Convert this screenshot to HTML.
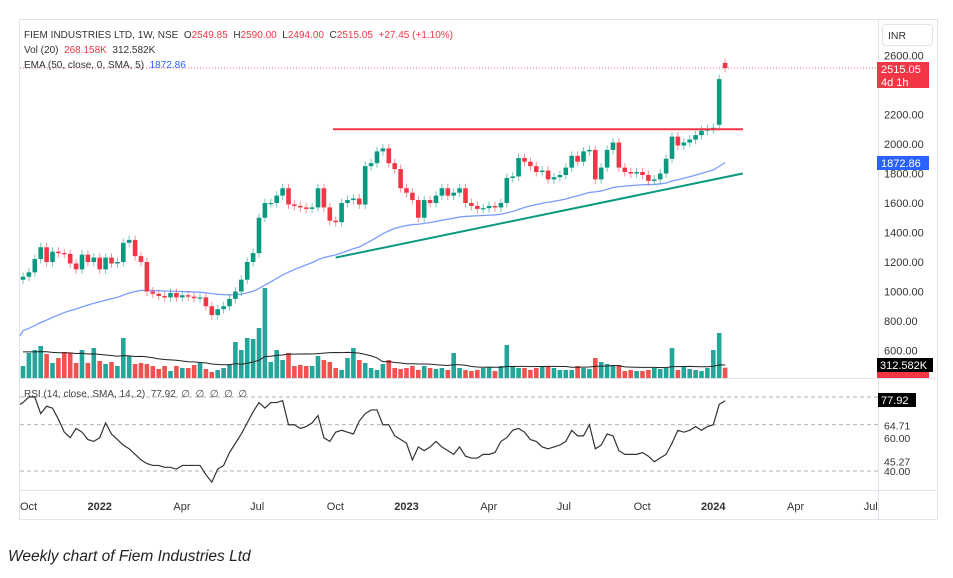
<!DOCTYPE html>
<html><head><meta charset="utf-8">
<style>
body{margin:0;background:#fff;width:953px;height:578px;overflow:hidden;font-family:"Liberation Sans",sans-serif;}
svg{position:absolute;left:0;top:0}
.cap{position:absolute;left:8px;top:548px;font-style:italic;font-size:15.5px;color:#222;}
</style></head>
<body>
<svg id="c" width="953" height="578"></svg>
<div class="cap">Weekly chart of Fiem Industries Ltd</div>
<script>
const closes=[1100,1130,1220,1300,1200,1270,1260,1255,1190,1150,1250,1200,1230,1150,1230,1190,1200,1330,1350,1240,
1200,1000,985,970,960,990,960,975,965,955,960,900,840,880,
900,950,1000,1080,1200,1260,1500,1600,1600,1650,1700,1590,1580,1570,1560,1570,1700,1570,1480,1470,1600,1620,1630,1590,
1850,1870,1950,1970,1870,1830,1700,1670,1620,1500,1620,1600,1650,1700,1650,1670,1700,1600,1580,1560,1565,1580,1570,1600,
1770,1780,1905,1880,1850,1810,1820,1760,1775,1790,1840,1920,1880,1950,1960,1760,1840,1960,2010,1840,
1810,1800,1810,1790,1750,1760,1800,1900,2050,1990,2010,2030,2060,2090,2100,2110,2440,2515.05];
const lastOpen=2549.85;
const volumesK=[312,650,728,832,624,390,520,676,650,390,728,390,780,442,364,416,312,1040,572,364,
390,364,312,234,312,182,312,260,260,338,390,234,156,208,
260,364,936,728,1040,1014,1300,2340,416,728,468,650,312,338,312,312,572,468,416,260,208,520,780,468,
390,260,208,364,468,260,234,260,312,208,312,260,234,260,208,650,260,208,182,208,260,286,182,312,
858,312,260,260,208,260,312,312,260,208,208,208,312,260,234,520,416,364,338,338,
182,208,182,182,208,260,234,260,780,208,312,234,208,182,260,728,1170,268];
const rsiVals=[77,80,80,71,75,74,68,61,58,63,61,57,56,58,66,60,57,54,52,49,46,44,43,43,42,42,41,43,43,43,43,38,34,41,43,50,55,60,66,72,77,74,77,77,78,65,65,63,64,66,70,58,56,61,62,61,60,67,71,73,73,65,65,59,57,55,46,53,51,53,56,53,51,49,53,48,47,47,49,49,50,56,58,62,63,61,57,56,53,52,53,54,56,62,59,59,65,52,54,60,59,51,49,49,49,50,48,45,47,49,55,62,61,62,64,62,64,65,76,78];
const priceTicks=[2600,2200,2000,1800,1600,1400,1200,1000,800,600];
const timeLabels=["Oct","2022","Apr","Jul","Oct","2023","Apr","Jul","Oct","2024","Apr","Jul"];
const timeWeeks=[1,14,27,40,53,66,79,92,105,118,131,144];
const resistance=2100, supportStart=[53,1230], supportEnd=[122,1800];

const svg=document.getElementById('c');const NS='http://www.w3.org/2000/svg';
function mk(t,a,p){const e=document.createElementNS(NS,t);for(const k in a)e.setAttribute(k,a[k]);(p||svg).appendChild(e);return e;}
const X=i=>23+i*5.9;
const Y=p=>144+(2000-p)*0.1475;
const VY=v=>378-v/26;
const RY=r=>434-(r-60)*1.85;
const G='#089981',R='#f23645';
const frame=mk('rect',{x:19.5,y:19.5,width:918,height:500,fill:'none',stroke:'#e0e3eb'});

mk('line',{x1:878.5,y1:20,x2:878.5,y2:519,stroke:'#e0e3eb'});
mk('line',{x1:20,y1:378.5,x2:937,y2:378.5,stroke:'#e0e3eb'});
mk('line',{x1:20,y1:490.5,x2:937,y2:490.5,stroke:'#e0e3eb'});
mk('line',{x1:20,y1:Y(2515.05),x2:878,y2:Y(2515.05),stroke:R,'stroke-dasharray':'1 2','stroke-width':0.8});
const vg=mk('g',{});
const opens=closes.map((c,i)=>i?closes[i-1]:1080);opens[closes.length-1]=lastOpen;opens[closes.length-2]=2130;
closes.forEach((c,i)=>{const up=c>=opens[i];const b=mk('rect',{x:X(i)-2.3,y:VY(volumesK[i]),width:4.6,height:378-VY(volumesK[i]),fill:up?'#26a69a':'#ef5350'},vg);
});
let vp='';volumesK.forEach((v,i)=>{const s=volumesK.slice(Math.max(0,i-19),i+1);const pre=Math.max(0,20-s.length);const m=(s.reduce((a,b)=>a+b,0)+pre*700)/20;vp+=(i?'L':'M')+X(i)+' '+VY(m);});
const vs=mk('path',{d:vp,fill:'none',stroke:'#222',"stroke-width":1});
let e=720,ep='';closes.forEach((c,i)=>{e=e+(c-e)*2/51;ep+=(i?'L':'M')+X(i)+' '+Y(e);});
const el=mk('path',{d:'M20 '+Y(700)+ep.replace('M','L'),fill:'none',stroke:'#7b9cff','stroke-width':1.3});
const cg=mk('g',{});
closes.forEach((c,i)=>{const o=opens[i];const up=c>=o;const col=up?G:R;const hi=Math.max(o,c)+30,lo=Math.min(o,c)-30;
mk('line',{x1:X(i),y1:Y(hi),x2:X(i),y2:Y(lo),stroke:col,'stroke-width':1,opacity:0.55},cg);
const h=Math.max(1.2,Math.abs(Y(o)-Y(c)));const r=mk('rect',{x:X(i)-2.3,y:Math.min(Y(o),Y(c)),width:4.6,height:h,fill:col},cg);
});
const rl=mk('line',{x1:333,y1:Y(resistance),x2:743,y2:Y(resistance),stroke:'#f23645','stroke-width':2});
const sl=mk('line',{x1:X(supportStart[0]),y1:Y(supportStart[1]),x2:X(supportEnd[0]),y2:Y(supportEnd[1]),stroke:'#089981','stroke-width':2});
[80,65,40].forEach(v=>mk('line',{x1:20,y1:RY(v),x2:878,y2:RY(v),stroke:'#999','stroke-dasharray':'4 3','stroke-width':0.8}));
let rp='';rsiVals.forEach((r,i)=>rp+=(i?'L':'M')+X(i)+' '+RY(r));
const rl2=mk('path',{d:'M20 '+RY(76)+rp.replace('M','L'),fill:'none',stroke:'#333','stroke-width':1.2});
function tx(x,y,s,o){const t=mk('text',Object.assign({x:x,y:y,'font-size':11,fill:'#131722','font-family':'Liberation Sans'},o||{}));t.textContent=s;return t;}
priceTicks.forEach(p=>{const t=tx(884,Y(p)+4,p.toFixed(2),{fill:'#333'});});
[['64.71',RY(64.71)+4],['60.00',RY(60)+8],['45.27',RY(45.27)+4],['40.00',RY(40)+4]].forEach(a=>tx(884,a[1],a[0],{fill:'#333','font-size':10.5}));
mk('rect',{x:877,y:62,width:52,height:26,fill:'#f23645'});tx(881,73,'2515.05',{fill:'#fff'});tx(881,86,'4d 1h',{fill:'#fff'});
mk('rect',{x:877,y:156,width:52,height:14,fill:'#2962ff'});tx(881,167,'1872.86',{fill:'#fff'});
mk('rect',{x:877,y:370,width:52,height:8,fill:'#f23645'});
mk('rect',{x:877,y:358,width:56,height:14,fill:'#000'});tx(880,369,'312.582K',{fill:'#fff'});
mk('rect',{x:878,y:393,width:38,height:14,fill:'#000'});tx(881,404,'77.92',{fill:'#fff'});
const inr=mk('rect',{x:882.5,y:24.5,width:50,height:21,rx:3,fill:'#fff',stroke:'#e0e3eb'});
tx(888,39,'INR',{fill:'#333','font-size':10.5});
timeLabels.forEach((s,k)=>{const bold=/^\d/.test(s);const t=tx(X(timeWeeks[k]-1)+(bold?0:-3),510,s,{'text-anchor':bold?'middle':'start','font-weight':bold?'bold':'normal',fill:'#333','font-size':11});
});
const LF={'font-size':10,fill:'#333'};
const l1=tx(24,38,'',LF);l1.innerHTML='FIEM INDUSTRIES LTD, 1W, NSE  O<tspan fill="#f23645">2549.85</tspan>  H<tspan fill="#f23645">2590.00</tspan>  L<tspan fill="#f23645">2494.00</tspan>  C<tspan fill="#f23645">2515.05</tspan>  <tspan fill="#f23645">+27.45 (+1.10%)</tspan>';
l1.style.whiteSpace='pre';
const l2=tx(24,53,'',LF);l2.innerHTML='Vol (20)  <tspan fill="#f23645">268.158K</tspan>  312.582K';l2.style.whiteSpace='pre';

const l3=tx(24,68,'',LF);l3.innerHTML='EMA (50, close, 0, SMA, 5)  <tspan fill="#2962ff">1872.86</tspan>';l3.style.whiteSpace='pre';

const l4=tx(24,397,'RSI (14, close, SMA, 14, 2)  77.92  ∅  ∅  ∅  ∅  ∅',{fill:'#444','font-size':10});l4.style.whiteSpace='pre';

</script>
</body></html>
